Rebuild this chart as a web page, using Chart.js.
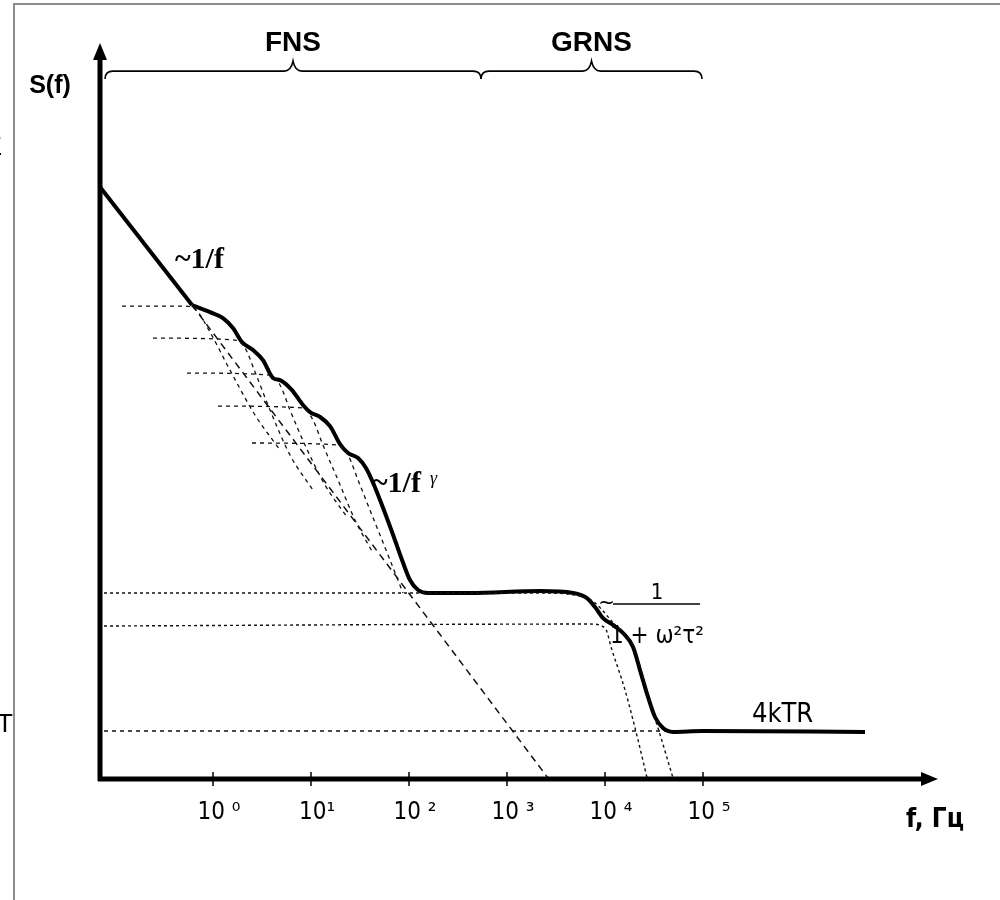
<!DOCTYPE html>
<html>
<head>
<meta charset="utf-8">
<script src="https://cdn.jsdelivr.net/npm/chart.js@4.4.1/dist/chart.umd.min.js"></script>
<style>
  html, body { margin: 0; padding: 0; background: #fff; }
  canvas { display: block; }
</style>
</head>
<body>
<canvas id="noiseChart" width="1000" height="900"></canvas>
<script>
// x = log10(f), y = log10 S(f) in arbitrary units
const tickValues = [0, 1, 2, 3, 4, 5];
const tickLabels = ['10 \u2070', '10\u00b9', '10 \u00b2', '10 \u00b3', '10 \u2074', '10 \u2075'];

// total spectrum (thick line): straight 1/f part, then the bumpy rest
const spectrumStart = [[-1.153, 4.554], [-0.214, 3.646]];
const spectrum = [
  [-0.214, 3.646], [-0.031, 3.592], [0.102, 3.546], [0.204, 3.469],
  [0.296, 3.362], [0.408, 3.300], [0.510, 3.223], [0.612, 3.085], [0.684, 3.069],
  [0.806, 2.992], [0.918, 2.877], [0.990, 2.823], [1.092, 2.785], [1.194, 2.715],
  [1.296, 2.577], [1.378, 2.508], [1.480, 2.469], [1.561, 2.392], [1.643, 2.262],
  [1.724, 2.108], [1.827, 1.900], [1.929, 1.685], [2.010, 1.531], [2.092, 1.454],
  [2.194, 1.431], [2.622, 1.431], [3.337, 1.446], [3.673, 1.431], [3.816, 1.392],
  [3.898, 1.323], [3.980, 1.238], [4.082, 1.185], [4.184, 1.123], [4.286, 1.015],
  [4.357, 0.838], [4.439, 0.631], [4.510, 0.477], [4.592, 0.392], [4.694, 0.362],
  [4.990, 0.369], [6.653, 0.362]
];

// ~1/f asymptote continued
const flickerLine = [[-0.214, 3.646], [3.418, 0.008]];

// FNS lorentzians
const fns1 = [[-0.929, 3.638], [-0.286, 3.638], [-0.173, 3.608], [-0.031, 3.438], [0.173, 3.146], [0.429, 2.800], [0.684, 2.531]];
const fns2 = [[-0.612, 3.392], [0.224, 3.377], [0.327, 3.315], [0.429, 3.131], [0.582, 2.838], [0.786, 2.492], [1.020, 2.223]];
const fns3 = [[-0.265, 3.123], [0.582, 3.108], [0.684, 3.031], [0.786, 2.838], [0.939, 2.569], [1.143, 2.262], [1.367, 2.015]];
const fns4 = [[0.051, 2.869], [0.918, 2.854], [1.020, 2.762], [1.122, 2.569], [1.276, 2.300], [1.449, 1.992], [1.633, 1.738]];
const fns5 = [[0.398, 2.585], [1.276, 2.569], [1.378, 2.492], [1.480, 2.300], [1.622, 2.031], [1.786, 1.723], [1.939, 1.431]];

// GRNS lorentzians and thermal level
const grns1 = [[-1.112, 1.431], [3.337, 1.431], [3.816, 1.392], [4.102, 1.185], [4.306, 0.992], [4.439, 0.631], [4.541, 0.392], [4.694, 0.008]];
const grns2 = [[-1.112, 1.177], [3.847, 1.192], [4.000, 1.162], [4.071, 0.992], [4.204, 0.685], [4.337, 0.300], [4.429, 0.008]];
const thermal = [[-1.112, 0.369], [4.612, 0.369]];

// braces over the axis
const fnsBrace = [-1.102, 2.735];
const grnsBrace = [2.735, 4.990];
const braceLevel = 5.446;

const pts = (arr) => arr.map(([x, y]) => ({ x: x, y: y }));

function compLine(arr, dash, width) {
  return {
    data: pts(arr),
    showLine: true,
    borderColor: '#111',
    borderWidth: width || 1.5,
    borderDash: dash,
    pointRadius: 0,
    cubicInterpolationMode: 'monotone',
    fill: false,
  };
}

function brace(ctx, x0, x1, yb) {
  const xm = (x0 + x1) / 2;
  ctx.beginPath();
  ctx.moveTo(x0, yb + 8);
  ctx.quadraticCurveTo(x0, yb, x0 + 8, yb);
  ctx.lineTo(xm - 9, yb);
  ctx.quadraticCurveTo(xm - 2, yb, xm, yb - 10);
  ctx.quadraticCurveTo(xm + 2, yb, xm + 9, yb);
  ctx.lineTo(x1 - 8, yb);
  ctx.quadraticCurveTo(x1, yb, x1, yb + 8);
  ctx.stroke();
}

const decorPlugin = {
  id: 'decor',
  afterDatasetsDraw(chart) {
    const ctx = chart.ctx;
    const a = chart.chartArea;
    const x = chart.scales.x;
    const y = chart.scales.y;
    const px = (v) => x.getPixelForValue(v);
    const py = (v) => y.getPixelForValue(v);
    ctx.save();

    // page frame
    ctx.strokeStyle = '#8c8c8c';
    ctx.lineWidth = 2;
    ctx.beginPath();
    ctx.moveTo(14, 900);
    ctx.lineTo(14, 4);
    ctx.lineTo(1000, 4);
    ctx.stroke();

    // axes with arrows
    ctx.strokeStyle = '#000';
    ctx.fillStyle = '#000';
    ctx.lineWidth = 5;
    ctx.beginPath();
    ctx.moveTo(a.left, a.bottom + 2);
    ctx.lineTo(a.left, a.top + 14);
    ctx.moveTo(a.left - 2, a.bottom);
    ctx.lineTo(a.right - 14, a.bottom);
    ctx.stroke();
    ctx.beginPath();
    ctx.moveTo(a.left, a.top);
    ctx.lineTo(a.left - 7, a.top + 17);
    ctx.lineTo(a.left + 7, a.top + 17);
    ctx.closePath();
    ctx.fill();
    ctx.beginPath();
    ctx.moveTo(a.right, a.bottom);
    ctx.lineTo(a.right - 17, a.bottom - 7);
    ctx.lineTo(a.right - 17, a.bottom + 7);
    ctx.closePath();
    ctx.fill();

    // tick marks
    ctx.lineWidth = 1.5;
    tickValues.forEach((v) => {
      ctx.beginPath();
      ctx.moveTo(px(v), a.bottom - 7);
      ctx.lineTo(px(v), a.bottom + 7);
      ctx.stroke();
    });

    // braces
    ctx.lineWidth = 1.6;
    brace(ctx, px(fnsBrace[0]), px(fnsBrace[1]), py(braceLevel));
    brace(ctx, px(grnsBrace[0]), px(grnsBrace[1]), py(braceLevel));

    // texts
    ctx.textBaseline = 'alphabetic';
    ctx.textAlign = 'center';
    ctx.font = 'bold 28px "Liberation Sans", Arial, sans-serif';
    ctx.fillText('FNS', px((fnsBrace[0] + fnsBrace[1]) / 2), 51);
    ctx.fillText('GRNS', px((grnsBrace[0] + grnsBrace[1]) / 2), 51);
    ctx.font = 'bold 25px "Liberation Sans", Arial, sans-serif';
    ctx.fillText('S(f)', 50, 93);

    ctx.textAlign = 'left';
    ctx.font = 'bold 30px "Liberation Serif", "Times New Roman", serif';
    ctx.fillText('~1/f', px(-0.388), py(3.931));
    ctx.fillText('~1/f', px(1.622), py(2.208));
    const gx = px(1.622) + ctx.measureText('~1/f').width + 9;
    ctx.font = 'italic 18px "Liberation Serif", "Times New Roman", serif';
    ctx.fillText('\u03b3', gx, py(2.208) - 8);

    // lorentzian formula
    const narrow = '"Liberation Sans Narrow", "DejaVu Sans Condensed", Arial, sans-serif';
    ctx.font = '22px ' + narrow;
    ctx.fillText('~', px(3.93), py(1.31));
    ctx.lineWidth = 1.5;
    ctx.beginPath();
    ctx.moveTo(px(4.082), py(1.346));
    ctx.lineTo(px(4.969), py(1.346));
    ctx.stroke();
    ctx.textAlign = 'center';
    ctx.font = '22px ' + narrow;
    ctx.fillText('1', px(4.531), py(1.384));
    ctx.font = '24px ' + narrow;
    ctx.fillText('1 + \u03c9\u00b2\u03c4\u00b2', px(4.53), py(1.046));

    ctx.textAlign = 'left';
    ctx.font = '27px ' + narrow;
    ctx.fillText('4kTR', px(5.5), py(0.438));
    ctx.font = 'bold 26px ' + narrow;
    ctx.fillText('f, \u0413\u0446', px(7.071), 827);

    // glyphs cut by the frame edge
    ctx.font = '26px "Liberation Sans", Arial, sans-serif';
    ctx.fillText('\u03a3', -14, 155);
    ctx.fillText('T', -3, 732);

    ctx.restore();
  },
};

new Chart(document.getElementById('noiseChart'), {
  type: 'scatter',
  data: {
    datasets: [
      compLine(thermal, [4, 4], 1.4),
      compLine(grns2, [3, 3], 1.4),
      compLine(grns1, [3, 3], 1.4),
      compLine(flickerLine, [7, 5], 1.5),
      compLine(fns1, [4, 4], 1.3),
      compLine(fns2, [4, 4], 1.3),
      compLine(fns3, [4, 4], 1.3),
      compLine(fns4, [4, 4], 1.3),
      compLine(fns5, [4, 4], 1.3),
      {
        data: pts(spectrumStart),
        showLine: true,
        borderColor: '#000',
        borderWidth: 4,
        pointRadius: 0,
        tension: 0,
        fill: false,
      },
      {
        data: pts(spectrum),
        showLine: true,
        borderColor: '#000',
        borderWidth: 4,
        pointRadius: 0,
        cubicInterpolationMode: 'monotone',
        fill: false,
      },
    ],
  },
  options: {
    responsive: false,
    animation: false,
    devicePixelRatio: 1,
    layout: { padding: { left: 100, right: 62, top: 43, bottom: 0 } },
    plugins: { legend: { display: false }, tooltip: { enabled: false } },
    scales: {
      x: {
        type: 'linear',
        min: -1.153,
        max: 7.398,
        afterBuildTicks: (scale) => {
          scale.ticks = tickValues.map((v) => ({ value: v }));
        },
        afterFit: (scale) => {
          scale.height = 121;
        },
        grid: { display: false, drawTicks: false },
        border: { display: false },
        ticks: {
          autoSkip: false,
          maxRotation: 0,
          padding: 19,
          labelOffset: 6,
          color: '#000',
          font: { family: '"Liberation Sans Narrow", "DejaVu Sans Condensed", Arial, sans-serif', size: 24 },
          callback: (v) => tickLabels[tickValues.indexOf(v)],
        },
      },
      y: {
        type: 'linear',
        min: 0,
        max: 5.662,
        display: false,
      },
    },
  },
  plugins: [decorPlugin],
});
</script>
</body>
</html>
